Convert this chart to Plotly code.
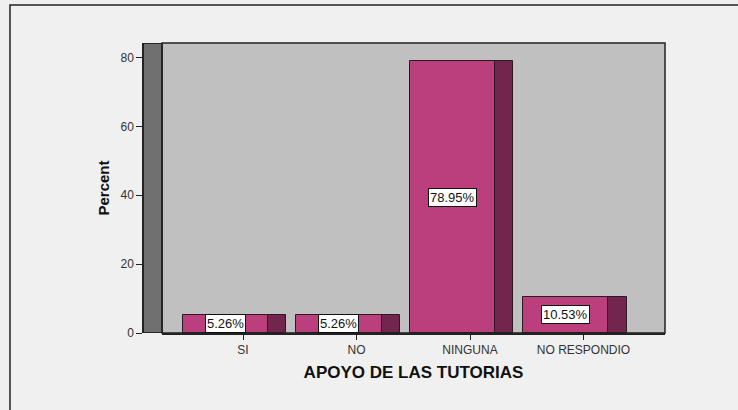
import plotly.graph_objects as go

categories = ["SI", "NO", "NINGUNA", "NO RESPONDIO"]
percents = [5.26, 5.26, 78.95, 10.53]
labels = ["5.26%", "5.26%", "78.95%", "10.53%"]
y_ticks = [0, 20, 40, 60, 80]

xpos = list(range(len(categories)))
FRONT = "#BB3F7C"
SIDE = "#72264E"
EDGE = "#2A1A22"
YMAX = 84.2

front_off, front_w = -0.529, 0.749
side_off, side_w = 0.220, 0.159

fig = go.Figure()
fig.add_trace(go.Bar(x=xpos, y=percents, offset=front_off, width=front_w,
                     marker=dict(color=FRONT, line=dict(color=EDGE, width=1)),
                     hoverinfo="skip", showlegend=False))
fig.add_trace(go.Bar(x=xpos, y=percents, offset=side_off, width=side_w,
                     marker=dict(color=SIDE, line=dict(color=EDGE, width=1)),
                     hoverinfo="skip", showlegend=False))

for xi, v, t in zip(xpos, percents, labels):
    fig.add_annotation(x=xi + front_off + front_w / 2, y=v / 2, text=t,
                       showarrow=False, bgcolor="white", bordercolor="#111",
                       borderwidth=1, borderpad=1,
                       font=dict(family="Liberation Sans", size=13, color="#111"))

L, R, T, B = 143, 665, 43, 333
W, H = 738, 410
dom0 = (162 - L) / (R - L)

def px(xp):
    return (xp - L) / (R - L)

def py(yp):
    return (B - yp) / (B - T)

shapes = [
    # side wall
    dict(type="rect", xref="paper", yref="y", x0=0, x1=dom0, y0=0, y1=YMAX,
         fillcolor="#707070", line=dict(color="#111", width=1.5), layer="below"),
    # plot frame
    dict(type="rect", xref="paper", yref="paper", x0=dom0, x1=1, y0=0, y1=1,
         fillcolor="rgba(0,0,0,0)", line=dict(color="#222", width=1.5)),
    # outer frame
    dict(type="rect", xref="paper", yref="paper", x0=px(10), x1=px(760),
         y0=py(430), y1=py(5), fillcolor="rgba(0,0,0,0)",
         line=dict(color="#222", width=1.5)),
]

fig.update_layout(
    width=W, height=H,
    margin=dict(l=L, r=W - R, t=T, b=H - B),
    paper_bgcolor="#F0F0F0",
    plot_bgcolor="#C0C0C0",
    barmode="overlay",
    bargap=0,
    shapes=shapes,
    font=dict(family="Liberation Sans", color="#222"),
    xaxis=dict(domain=[dom0, 1], range=[-0.714, 3.718], tickmode="array",
               tickvals=xpos, ticktext=categories, ticks="outside", ticklen=5,
               tickcolor="#222", tickfont=dict(size=12, color="#333"),
               showgrid=False, zeroline=False, showline=True,
               linecolor="#222", linewidth=1.5,
               title=dict(text="<b>APOYO DE LAS TUTORIAS</b>",
                          font=dict(size=17, color="#111"), standoff=10)),
    yaxis=dict(range=[0, YMAX], anchor="free", position=0, tickmode="array",
               tickvals=y_ticks, ticks="outside", ticklen=6, tickcolor="#222",
               tickfont=dict(size=12, color="#333"), showgrid=False,
               zeroline=False, showline=True, linecolor="#222", linewidth=1.5,
               title=dict(text="<b>Percent</b>", font=dict(size=15, color="#111"),
                          standoff=6)),
)

fig.write_html(
    "out.html",
    config={"displayModeBar": False},
    post_script="document.body.style.margin='0';document.body.style.overflow='hidden';document.body.style.background='#F0F0F0';",
)
